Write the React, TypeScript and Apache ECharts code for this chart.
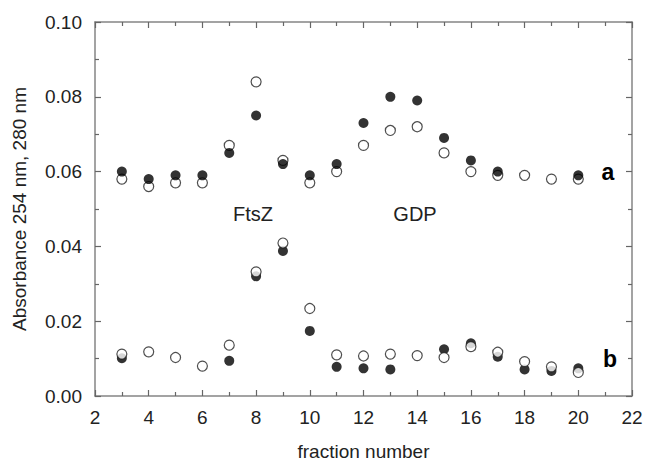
import React, { useEffect, useRef } from "react";
import * as echarts from "echarts";

const fractions = [3, 4, 5, 6, 7, 8, 9, 10, 11, 12, 13, 14, 15, 16, 17, 18, 19, 20];
// curve a (upper)
const aFilled = [0.060, 0.058, 0.059, 0.059, 0.065, 0.075, 0.062, 0.059, 0.062, 0.073, 0.080, 0.079, 0.069, 0.063, 0.060, null, null, 0.059];
const aOpen = [0.058, 0.056, 0.057, 0.057, 0.067, 0.084, 0.063, 0.057, 0.060, 0.067, 0.071, 0.072, 0.065, 0.060, 0.059, 0.059, 0.058, 0.058];
// curve b (lower)
const bFilled = [0.0101, null, null, null, 0.0094, 0.032, 0.0388, 0.0174, 0.0078, 0.0074, 0.0071, null, 0.0125, 0.0141, 0.0105, 0.0071, 0.0067, 0.0074];
const bOpen = [0.0112, 0.0118, 0.0103, 0.008, 0.0136, 0.0332, 0.0409, 0.0234, 0.011, 0.0107, 0.0112, 0.0108, 0.0103, 0.0132, 0.0117, 0.0092, 0.0078, 0.0063];

const pairs = (vals: (number | null)[]) =>
  fractions.map((f, i) => [f, vals[i]]).filter((p) => p[1] !== null);

export default function App() {
  const ref = useRef<HTMLDivElement>(null);
  useEffect(() => {
    const chart = echarts.init(ref.current!, null, { renderer: "svg" });
    const font = "Liberation Sans, Arial, sans-serif";
    const axisColor = "#858585";
    const tickColor = "#666";
    const mkTick = () => ({ show: true, inside: true, length: 6, lineStyle: { color: tickColor, width: 1.2 } });
    const mkMinor = () => ({ show: true, splitNumber: 2, length: 4, lineStyle: { color: tickColor, width: 1.2 } });
    const mkLine = () => ({ show: true, onZero: false, lineStyle: { color: axisColor, width: 1.5 } });
    const filledStyle = { color: "#000" };
    const openStyle = { color: "#fff", borderColor: "#222", borderWidth: 1.2 };
    chart.setOption({
      animation: false,
      backgroundColor: "#fff",
      grid: { left: 95, right: 13, top: 22, bottom: 68, outerBoundsMode: "none" },
      xAxis: [
        {
          type: "value",
          min: 2,
          max: 22,
          interval: 2,
          position: "bottom",
          axisLine: mkLine(),
          axisTick: mkTick(),
          minorTick: mkMinor(),
          splitLine: { show: false },
          name: "fraction number",
          nameLocation: "middle",
          nameGap: 46,
          nameTextStyle: { fontFamily: font, fontSize: 19, color: "#222" },
          axisLabel: { fontFamily: font, fontSize: 19, color: "#222", margin: 12 },
        },
        {
          type: "value",
          min: 2,
          max: 22,
          interval: 2,
          position: "top",
          axisLine: mkLine(),
          axisTick: mkTick(),
          minorTick: mkMinor(),
          splitLine: { show: false },
          axisLabel: { show: false },
        },
      ],
      yAxis: [
        {
          type: "value",
          min: 0,
          max: 0.1,
          interval: 0.02,
          position: "left",
          axisLine: mkLine(),
          axisTick: mkTick(),
          minorTick: mkMinor(),
          splitLine: { show: false },
          name: "Absorbance 254 nm, 280 nm",
          nameLocation: "middle",
          nameGap: 66,
          nameTextStyle: { fontFamily: font, fontSize: 19, color: "#222" },
          axisLabel: {
            fontFamily: font,
            fontSize: 19,
            color: "#222",
            margin: 13,
            formatter: (v: number) => v.toFixed(2),
          },
        },
        {
          type: "value",
          min: 0,
          max: 0.1,
          interval: 0.02,
          position: "right",
          axisLine: mkLine(),
          axisTick: mkTick(),
          minorTick: mkMinor(),
          splitLine: { show: false },
          axisLabel: { show: false },
        },
      ],
      series: [
        { type: "scatter", symbol: "circle", symbolSize: 10, data: pairs(aOpen), itemStyle: openStyle, z: 2 },
        { type: "scatter", symbol: "circle", symbolSize: 10, data: pairs(aFilled), itemStyle: filledStyle, z: 3 },
        { type: "scatter", symbol: "circle", symbolSize: 10, data: pairs(bFilled), itemStyle: filledStyle, z: 3 },
        { type: "scatter", symbol: "circle", symbolSize: 10, data: pairs(bOpen), itemStyle: openStyle, z: 4 },
      ],
      graphic: [
        { type: "text", x: 608, y: 172, style: { text: "a", font: `bold 23px ${font}`, fill: "#000", align: "center", verticalAlign: "middle" } },
        { type: "text", x: 610, y: 359, style: { text: "b", font: `bold 23px ${font}`, fill: "#000", align: "center", verticalAlign: "middle" } },
        { type: "text", x: 253, y: 214, style: { text: "FtsZ", font: `20px ${font}`, fill: "#222", align: "center", verticalAlign: "middle" } },
        { type: "text", x: 415, y: 214, style: { text: "GDP", font: `20px ${font}`, fill: "#222", align: "center", verticalAlign: "middle" } },
      ],
    });
    return () => chart.dispose();
  }, []);
  return <div ref={ref} style={{ width: 645, height: 464, position: "absolute", left: 0, top: 0 }} />;
}
